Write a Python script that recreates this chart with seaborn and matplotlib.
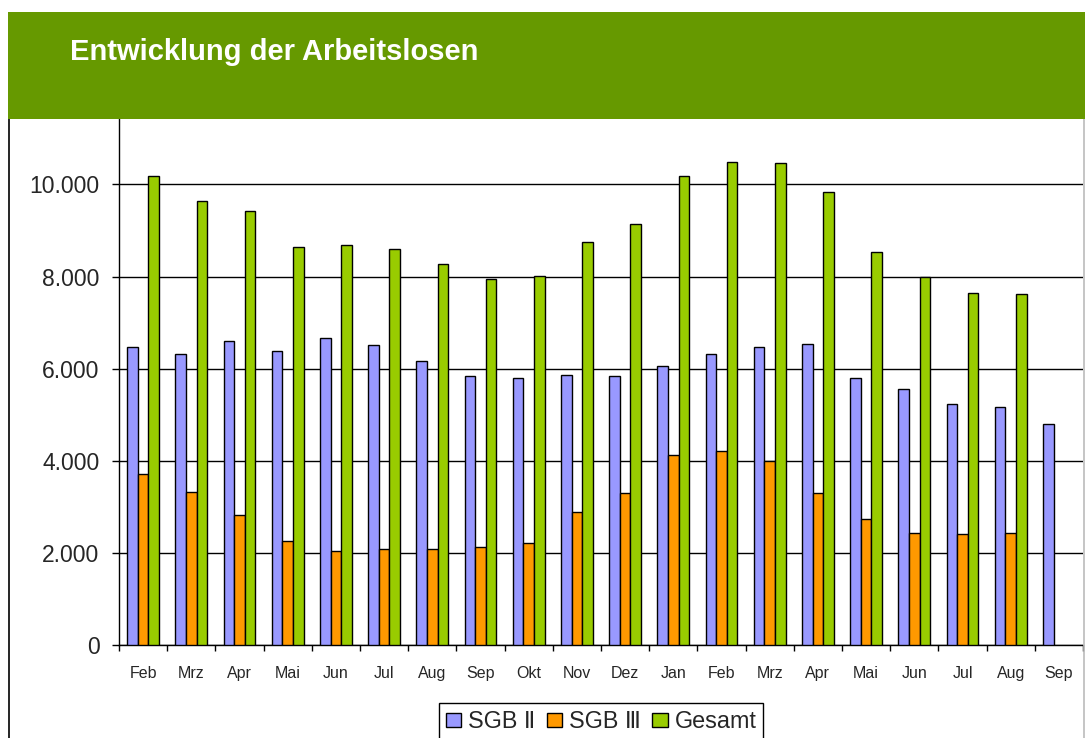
"""Entwicklung der Arbeitslosen - grouped bar chart."""

import numpy as np
import pandas as pd
import matplotlib
matplotlib.use("Agg")
import matplotlib.pyplot as plt
from matplotlib.patches import Patch, Rectangle
from matplotlib.lines import Line2D
from matplotlib.ticker import FuncFormatter, FixedLocator
import seaborn as sns

# data
periods = ["2007-02", "2007-03", "2007-04", "2007-05", "2007-06", "2007-07",
           "2007-08", "2007-09", "2007-10", "2007-11", "2007-12", "2008-01",
           "2008-02", "2008-03", "2008-04", "2008-05", "2008-06", "2008-07",
           "2008-08", "2008-09"]
month_labels = ["Feb", "Mrz", "Apr", "Mai", "Jun", "Jul", "Aug", "Sep", "Okt",
                "Nov", "Dez", "Jan", "Feb", "Mrz", "Apr", "Mai", "Jun", "Jul",
                "Aug", "Sep"]
sgb2 = [6480, 6320, 6600, 6380, 6660, 6510, 6160, 5840, 5800, 5870,
        5840, 6060, 6320, 6470, 6540, 5800, 5550, 5230, 5170, 4800]
sgb3 = [3710, 3330, 2820, 2250, 2030, 2090, 2090, 2120, 2220, 2880,
        3300, 4120, 4220, 4000, 3300, 2730, 2440, 2410, 2440, np.nan]
gesamt = [10190, 9640, 9420, 8650, 8680, 8600, 8280, 7950, 8020, 8760,
          9130, 10180, 10490, 10460, 9830, 8530, 8000, 7640, 7610, np.nan]

series_names = ["SGB Ⅱ", "SGB Ⅲ", "Gesamt"]
colors = {"SGB Ⅱ": "#9999FF", "SGB Ⅲ": "#FF9900", "Gesamt": "#99CC00"}

df = pd.concat([
    pd.DataFrame({"period": periods, "value": vals, "series": name})
    for name, vals in zip(series_names, [sgb2, sgb3, gesamt])
]).dropna()

sns.set_style("white")
plt.rcParams["font.family"] = ["Liberation Sans", "DejaVu Sans"]

W, H = 1085, 738
fig = plt.figure(figsize=(W / 100, H / 100), dpi=100)
ax = fig.add_axes([119 / W, 1 - 645 / H, (1083 - 119) / W, (645 - 119) / H])

sns.barplot(
    data=df, x="period", y="value", hue="series",
    order=periods, hue_order=series_names, palette=colors, saturation=1,
    width=0.66, gap=0, edgecolor="black", linewidth=1.0,
    errorbar=None, legend=False, ax=ax, zorder=3,
)

ax.set_xlim(-0.5, len(periods) - 0.5)
ax.set_ylim(0, 11420)
ax.set_xlabel("")
ax.set_ylabel("")

# y axis
ax.yaxis.set_major_locator(FixedLocator([0, 2000, 4000, 6000, 8000, 10000]))
ax.yaxis.set_major_formatter(FuncFormatter(lambda v, _: f"{int(v):,}".replace(",", ".")))
ax.grid(axis="y", color="black", linewidth=1.0, zorder=0)
ax.set_axisbelow(True)
ax.tick_params(axis="y", direction="out", length=5, width=1, color="black",
               labelsize=16.5, pad=9, left=True)

# x axis: ticks at category boundaries, labels at centers
ax.xaxis.set_major_locator(FixedLocator(np.arange(-0.5, len(periods), 1.0)))
ax.xaxis.set_minor_locator(FixedLocator(np.arange(len(periods))))
ax.set_xticklabels([""] * (len(periods) + 1))
ax.set_xticklabels(month_labels, minor=True)
ax.tick_params(axis="x", which="major", direction="out", length=4.5, width=1,
               color="black", bottom=True)
ax.tick_params(axis="x", which="minor", length=0, labelsize=11.5, pad=15)

for side in ["top", "right"]:
    ax.spines[side].set_visible(False)
for side in ["left", "bottom"]:
    ax.spines[side].set_color("black")
    ax.spines[side].set_linewidth(1.0)

# header band and title
fig.patches.append(Rectangle((8 / W, 1 - 119 / H), 1 - 8 / W, (119 - 12) / H,
                             transform=fig.transFigure, facecolor="#669900",
                             edgecolor="none", zorder=5))
fig.text(70 / W, 1 - 60 / H, "Entwicklung der Arbeitslosen", color="white",
         fontsize=21, fontweight="bold", va="baseline", ha="left", zorder=6)

# outer frame lines
fig.lines.append(Line2D([9 / W, 9 / W], [0, 1 - 119 / H], transform=fig.transFigure,
                        color="black", linewidth=1.2, zorder=4))
fig.lines.append(Line2D([1084 / W, 1084 / W], [0, 1 - 119 / H], transform=fig.transFigure,
                        color="#bbbbbb", linewidth=1.2, zorder=4))

# legend
handles = [Patch(facecolor=colors[n], edgecolor="black", linewidth=1.0) for n in series_names]
fig.legend(handles, series_names, loc="upper center",
           bbox_to_anchor=(601 / W, 1 - 703 / H), ncol=3, fontsize=16.8,
           frameon=True, fancybox=False, edgecolor="black", framealpha=1,
           borderaxespad=0, handlelength=0.65, handleheight=0.55,
           handletextpad=0.3, columnspacing=0.5, borderpad=0.3)

fig.savefig("out.png", dpi=100)
